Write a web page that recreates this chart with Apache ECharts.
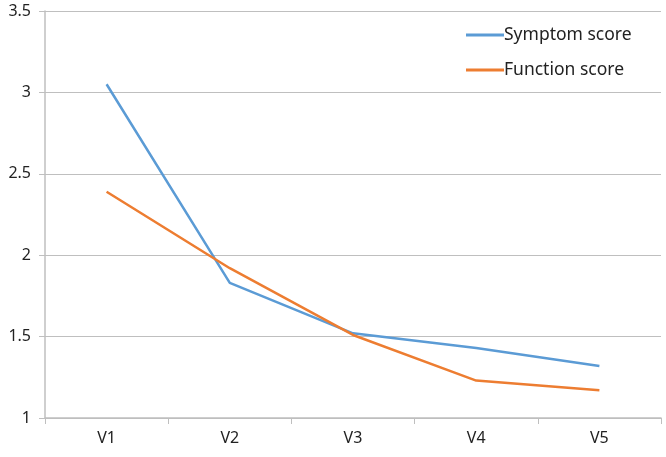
<!DOCTYPE html>
<html><head><meta charset="utf-8">
<script src="https://cdn.jsdelivr.net/npm/echarts@6/dist/echarts.min.js"></script>
<style>html,body{margin:0;padding:0;background:#fff}#c{width:666px;height:457px}</style>
</head><body><div id="c"></div>
<script>
const categories = ['V1','V2','V3','V4','V5'];
const symptomScore = [3.05, 1.83, 1.52, 1.43, 1.32];
const functionScore = [2.39, 1.92, 1.51, 1.23, 1.17];
const yTicks = {min: 1, max: 3.5, interval: 0.5};

const chart = echarts.init(document.getElementById('c'));
const font = '"Noto Sans", "DejaVu Sans", sans-serif';
chart.setOption({
  animation: false,
  textStyle: {fontFamily: font},
  grid: {left: 45, right: 5, top: 11, bottom: 39},
  legend: {
    orient: 'vertical', left: 461, top: 21, itemGap: 17,
    itemWidth: 38, itemHeight: 3, icon: 'rect',
    textStyle: {fontSize: 17.5, color: '#222', fontFamily: font, padding: [0,0,0,-5]},
    data: ['Symptom score', 'Function score']
  },
  xAxis: {
    type: 'category', data: categories, boundaryGap: true,
    axisLine: {lineStyle: {color: '#bfbfbf', width: 1.5}},
    axisTick: {show: true, length: 6, lineStyle: {color: '#bfbfbf'}},
    axisLabel: {fontSize: 16, color: '#222', margin: 12}
  },
  yAxis: {
    type: 'value', min: yTicks.min, max: yTicks.max, interval: yTicks.interval,
    axisLine: {show: true, lineStyle: {color: '#bfbfbf', width: 1.5}},
    axisTick: {show: true, length: 6, lineStyle: {color: '#bfbfbf'}},
    splitLine: {lineStyle: {color: '#bfbfbf', width: 1.2}},
    axisLabel: {fontSize: 16, color: '#222', margin: 14}
  },
  series: [
    {name: 'Symptom score', type: 'line', data: symptomScore, symbol: 'none',
     lineStyle: {color: '#5B9BD5', width: 2.5}, itemStyle: {color: '#5B9BD5'}},
    {name: 'Function score', type: 'line', data: functionScore, symbol: 'none',
     lineStyle: {color: '#ED7D31', width: 2.5}, itemStyle: {color: '#ED7D31'}}
  ]
});
</script></body></html>
